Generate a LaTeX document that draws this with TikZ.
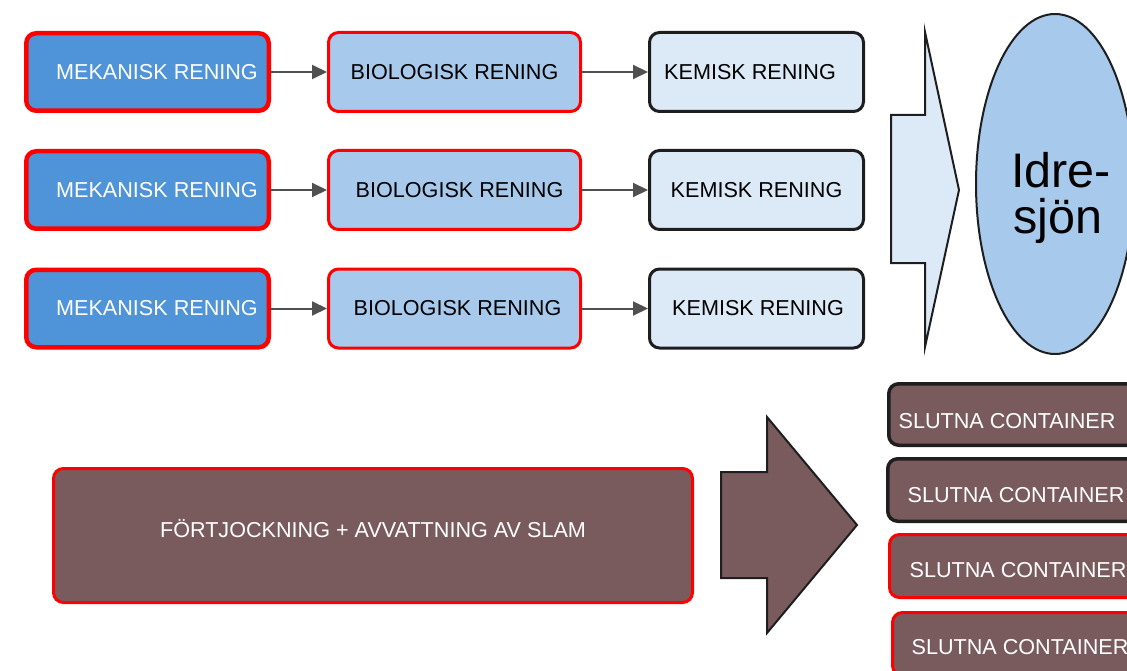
\documentclass[tikz,border=0pt]{standalone}
\usepackage{fontspec}
\setmainfont{Liberation Sans}
\usetikzlibrary{arrows.meta,shapes.geometric}
\definecolor{mek}{HTML}{4F94D8}
\definecolor{bio}{HTML}{A6C9EC}
\definecolor{kem}{HTML}{DCE9F7}
\definecolor{brn}{HTML}{795B5E}
\definecolor{arr}{HTML}{505050}
\definecolor{edge}{HTML}{1E1E1E}
\newcommand{\lowerby}[2]{\raisebox{0pt}[\dimexpr\height+#1\relax][\depth]{#2}}
\newcommand{\raiseby}[2]{\raisebox{0pt}[\height][\dimexpr\depth+#1\relax]{#2}}
\begin{document}
\begin{tikzpicture}[x=1pt,y=-1pt,
  box/.style={rounded corners=10pt, inner sep=0pt, font=\fontsize{21.6}{25}\selectfont},
  mekbox/.style={box, draw=red, line width=4.5pt, fill=mek, text=white, minimum width=242.5pt, minimum height=77.5pt},
  biobox/.style={box, draw=red, line width=3pt, fill=bio, minimum width=252pt, minimum height=79pt},
  kembox/.style={box, draw=edge, line width=3pt, fill=kem, minimum width=214pt, minimum height=79pt},
  contbox/.style={box, fill=brn, text=white, minimum height=62pt},
  flow/.style={draw=arr, line width=2pt, -{Triangle[length=15pt,width=14pt]}},
  bigarrow/.style={draw=edge, line width=2pt, line join=miter}
]
\useasboundingbox (0,0) rectangle (1127,671);
\begin{scope}
\clip (0,0) rectangle (1127,671);
% row 1
\node[mekbox] (m1) at (147.5,72) {\hspace*{19pt}MEKANISK RENING};
\node[biobox] (b1) at (454.5,72) {BIOLOGISK RENING};
\node[kembox] (k1) at (756.5,72) {KEMISK RENING\hspace*{13pt}};
% row 2
\node[mekbox] (m2) at (147.5,190) {\hspace*{19pt}MEKANISK RENING};
\node[biobox] (b2) at (454.5,190) {\hspace*{10pt}BIOLOGISK RENING};
\node[kembox] (k2) at (756.5,190) {KEMISK RENING};
% row 3
\node[mekbox] (m3) at (147.5,308.5) {\hspace*{19pt}MEKANISK RENING};
\node[biobox] (b3) at (454.5,308.5) {\hspace*{6pt}BIOLOGISK RENING};
\node[kembox] (k3) at (756.5,308.5) {\hspace*{3pt}KEMISK RENING};
\draw[flow] (m1) -- (b1);
\draw[flow] (b1) -- (k1);
\draw[flow] (m2) -- (b2);
\draw[flow] (b2) -- (k2);
\draw[flow] (m3) -- (b3);
\draw[flow] (b3) -- (k3);
% light arrow
\draw[bigarrow, fill=kem] (891,115) -- (925,115) -- (925,32) -- (959,190) -- (925,347) -- (925,263) -- (891,263) -- cycle;
% lake
\node[ellipse, draw=edge, line width=2pt, fill=bio, minimum width=158pt, minimum height=340pt, inner sep=0pt] (lake) at (1055,184) {};
\node[align=center, inner sep=0pt, font=\fontsize{48.5}{46.5}\selectfont] (laketext) at (1061,198) {Idre-\\\hspace*{-6pt}sjön};
% sludge
\node[box, draw=red, line width=3pt, fill=brn, text=white, minimum width=639pt, minimum height=134pt] (slam) at (373,535.5) {\raiseby{14pt}{FÖRTJOCKNING + AVVATTNING AV SLAM}};
\draw[bigarrow, fill=brn] (721,472) -- (767,472) -- (767,417) -- (857,525) -- (767,633) -- (767,578) -- (721,578) -- cycle;
% containers
\node[contbox, draw=edge, line width=3.5pt, minimum width=269.5pt, minimum height=61.5pt] (c1) at (1023.5,414.5) {\lowerby{13pt}{SLUTNA CONTAINER}\hspace*{33pt}};
\node[contbox, draw=edge, line width=3.5pt, minimum width=270.5pt, minimum height=62.5pt] (c2) at (1023,490) {\lowerby{10pt}{SLUTNA CONTAINER}\hspace*{14pt}};
\node[contbox, draw=red, line width=3pt, minimum width=269pt, minimum height=63pt] (c3) at (1024,566) {\lowerby{9pt}{SLUTNA CONTAINER}\hspace*{12pt}};
\node[contbox, draw=red, line width=3pt, minimum width=266pt, minimum height=63pt] (c4) at (1025.5,644) {\lowerby{7pt}{SLUTNA CONTAINER}\hspace*{11pt}};
\end{scope}
\end{tikzpicture}
\end{document}
